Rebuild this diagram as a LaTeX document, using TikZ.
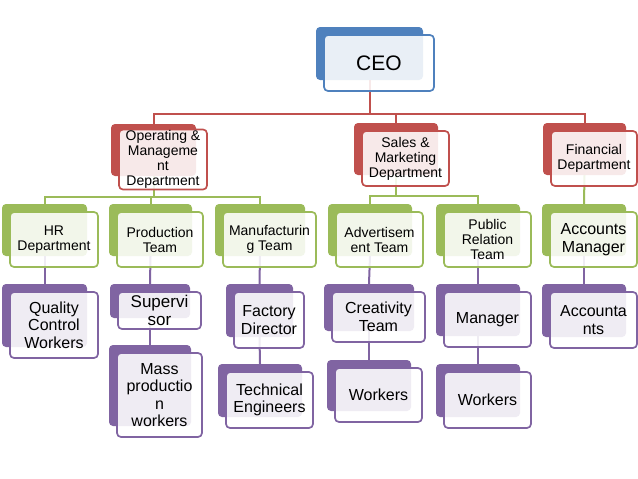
\documentclass[tikz,border=0pt]{standalone}
\usepackage{fontspec}
\setmainfont{Liberation Sans}
\usetikzlibrary{positioning,calc}
\definecolor{ceoblue}{HTML}{4F81BD}
\definecolor{deptred}{HTML}{C0504D}
\definecolor{teamgreen}{HTML}{9BBB59}
\definecolor{staffpurple}{HTML}{8064A2}

\begin{document}
\begin{tikzpicture}[
      x=1pt, y=-1pt,
      under/.style={fill=#1, rounded corners=4pt, inner sep=0pt},
      card/.style={draw=#1, line width=1.7pt, fill=white, fill opacity=0.88,
                   text opacity=1, rounded corners=4pt, align=center, inner sep=1pt},
      link/.style={draw=#1, line width=2pt},
      big/.style={font=\fontsize{21}{24}\selectfont},
      mid/.style={font=\fontsize{14}{15}\selectfont},
      low/.style={font=\fontsize{16}{17.5}\selectfont},
    ]
      \fill[white] (0,0) rectangle (638,479);
      \useasboundingbox (0,0) rectangle (638,479);

      % shaded boxes behind the cards
      \node[under=ceoblue, minimum width=107pt, minimum height=53pt] (ceoB) at (369.5,53.5) {};

      \node[under=deptred, minimum width=85pt, minimum height=52pt] (opB) at (153.5,150) {};
      \node[under=deptred, minimum width=84pt, minimum height=52pt] (salesB) at (396,149) {};
      \node[under=deptred, minimum width=83pt, minimum height=52pt] (finB) at (584.5,149) {};

      \node[under=teamgreen, minimum width=85pt, minimum height=52pt] (hrB) at (44.5,230) {};
      \node[under=teamgreen, minimum width=83pt, minimum height=52pt] (prodB) at (150.5,230) {};
      \node[under=teamgreen, minimum width=90pt, minimum height=52pt] (manuB) at (260,230) {};
      \node[under=teamgreen, minimum width=84pt, minimum height=52pt] (advB) at (370,230) {};
      \node[under=teamgreen, minimum width=84pt, minimum height=52pt] (prB) at (478,230) {};
      \node[under=teamgreen, minimum width=84pt, minimum height=52pt] (accmB) at (584,230) {};

      \node[under=staffpurple, minimum width=85pt, minimum height=63pt] (qcwB) at (44.5,315.5) {};
      \node[under=staffpurple, minimum width=80pt, minimum height=34pt] (supB) at (150,301) {};
      \node[under=staffpurple, minimum width=82pt, minimum height=81pt] (massB) at (150,385.5) {};
      \node[under=staffpurple, minimum width=67pt, minimum height=53pt] (factB) at (259.5,310.5) {};
      \node[under=staffpurple, minimum width=84pt, minimum height=53pt] (techB) at (260,390.5) {};
      \node[under=staffpurple, minimum width=90pt, minimum height=47pt] (creaB) at (369,307.5) {};
      \node[under=staffpurple, minimum width=84pt, minimum height=51pt] (workaB) at (369,385.5) {};
      \node[under=staffpurple, minimum width=84pt, minimum height=52pt] (mgrB) at (478,310) {};
      \node[under=staffpurple, minimum width=84pt, minimum height=53pt] (workbB) at (478,390.5) {};
      \node[under=staffpurple, minimum width=84pt, minimum height=53pt] (acctB) at (584,310.5) {};

      % connectors
      \draw[link=deptred] (ceoB.south) -- ++(0,34) coordinate (redbus);
      \draw[link=deptred] (redbus) -| (opB.north);
      \draw[link=deptred] (redbus) -| (salesB.north);
      \draw[link=deptred] (redbus) -| (finB.north);

      \draw[link=teamgreen] (opB.south) -- ++(0,21) coordinate (opbus);
      \draw[link=teamgreen] (opbus) -| (hrB.north);
      \draw[link=teamgreen] (opbus) -| (prodB.north);
      \draw[link=teamgreen] (opbus) -| (manuB.north);
      \draw[link=teamgreen] (salesB.south) -- ++(0,21) coordinate (salesbus);
      \draw[link=teamgreen] (salesbus) -| (advB.north);
      \draw[link=teamgreen] (salesbus) -| (prB.north);
      \draw[link=teamgreen] (finB.south) -- (accmB.north);

      \draw[link=staffpurple] (hrB.south) -- (qcwB.north);
      \draw[link=staffpurple] (prodB.south) -- (supB.north);
      \draw[link=staffpurple] (supB.south) -- (massB.north);
      \draw[link=staffpurple] (manuB.south) -- (factB.north);
      \draw[link=staffpurple] (factB.south) -- (techB.north);
      \draw[link=staffpurple] (advB.south) -- (creaB.north);
      \draw[link=staffpurple] (creaB.south) -- (workaB.north);
      \draw[link=staffpurple] (prB.south) -- (mgrB.north);
      \draw[link=staffpurple] (mgrB.south) -- (workbB.north);
      \draw[link=staffpurple] (accmB.south) -- (acctB.north);

      % cards
      \node[card=ceoblue, big, minimum width=110pt, minimum height=56pt] (ceo) at (379,63) {CEO};

      \node[card=deptred, mid, minimum width=88pt, minimum height=55pt] (op) at (163,159.5) {Operating \&\\Manageme\\nt\\Department};
      \node[card=deptred, mid, minimum width=87pt, minimum height=55pt] (sales) at (405.5,158.5) {Sales \&\\Marketing\\Department};
      \node[card=deptred, mid, minimum width=86pt, minimum height=55pt] (fin) at (594,158.5) {Financial\\Department};

      \node[card=teamgreen, mid, minimum width=88pt, minimum height=55pt] (hr) at (54,239.5) {HR\\Department};
      \node[card=teamgreen, mid, minimum width=86pt, minimum height=55pt] (prod) at (160,239.5) {Production\\Team};
      \node[card=teamgreen, mid, minimum width=93pt, minimum height=55pt] (manu) at (269.5,239.5) {Manufacturin\\g Team};
      \node[card=teamgreen, mid, minimum width=87pt, minimum height=55pt] (adv) at (379.5,239.5) {Advertisem\\ent Team};
      \node[card=teamgreen, mid, minimum width=87pt, minimum height=55pt] (pr) at (487.5,239.5) {Public\\Relation\\Team};
      \node[card=teamgreen, low, minimum width=87pt, minimum height=55pt] (accm) at (593.5,239.5) {Accounts\\Manager};

      \node[card=staffpurple, low, minimum width=88pt, minimum height=66pt] (qcw) at (54,325) {Quality\\Control\\Workers};
      \node[card=staffpurple, font=\fontsize{17}{18}\selectfont, minimum width=83pt, minimum height=37pt] (sup) at (159.5,310.5) {Supervi\\sor};
      \node[card=staffpurple, low, minimum width=85pt, minimum height=84pt] (mass) at (159.5,395) {Mass\\productio\\n\\workers};
      \node[card=staffpurple, low, minimum width=70pt, minimum height=56pt] (fact) at (269,320) {Factory\\Director};
      \node[card=staffpurple, low, minimum width=87pt, minimum height=56pt] (tech) at (269.5,400) {Technical\\Engineers};
      \node[card=staffpurple, low, minimum width=93pt, minimum height=50pt] (crea) at (378.5,317) {Creativity\\Team};
      \node[card=staffpurple, low, minimum width=87pt, minimum height=54pt] (worka) at (378.5,395) {Workers};
      \node[card=staffpurple, low, minimum width=87pt, minimum height=55pt] (mgr) at (487.5,319.5) {Manager};
      \node[card=staffpurple, low, minimum width=87pt, minimum height=56pt] (workb) at (487.5,400) {Workers};
      \node[card=staffpurple, low, minimum width=87pt, minimum height=56pt] (acct) at (593.5,320) {Accounta\\nts};
    \end{tikzpicture}
\end{document}
